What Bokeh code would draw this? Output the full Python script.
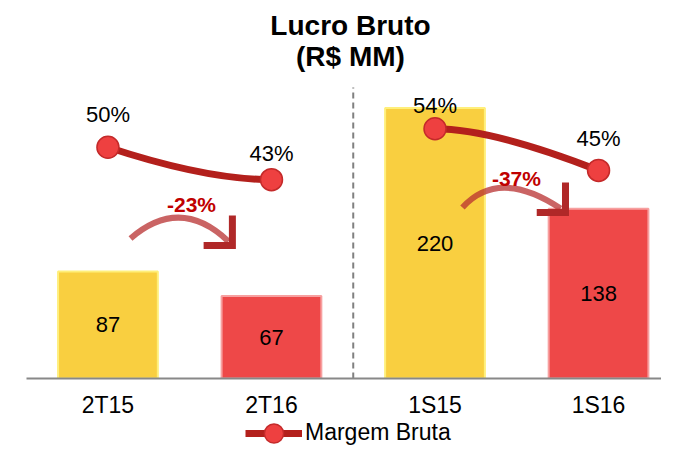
from bokeh.plotting import figure
from bokeh.layouts import column
from bokeh.models import Range1d, ColumnDataSource, Legend, LegendItem, FixedTicker
from bokeh.core.properties import value
from bokeh.embed import file_html
from bokeh.resources import INLINE

# ---- data ----
categories = ["2T15", "2T16", "1S15", "1S16"]
lucro = [87, 67, 220, 138]
margem = [50, 43, 54, 45]
margem_labels = ["50%", "43%", "54%", "45%"]
variacao_labels = ["-23%", "-37%"]
serie_nome = "Margem Bruta"

# ---- styles ----
bar_fill = ["#F9CF40", "#EE4848", "#F9CF40", "#EE4848"]
bar_edge = ["#FFEF7A", "#F7A0A0", "#FFEF7A", "#F7A0A0"]
pct_offsets = [-33, -26, -23, -32]
FONT = "Liberation Sans"
LINE_RED = "#B3201C"
DOT_FILL = "#EE4040"
DOT_EDGE = "#C42A2A"

xs = list(range(len(categories)))

p = figure(frame_width=635, frame_height=378, output_backend="svg", toolbar_location=None,
           x_range=Range1d(-0.498, 3.385), y_range=Range1d(0, 307.3),
           y_axis_location=None,
           min_border_left=26, min_border_right=0, min_border_top=0, min_border_bottom=0)
p.extra_y_ranges = {"pct": Range1d(0, 81.73)}
p.grid.visible = False
p.outline_line_color = None
p.background_fill_color = "white"

# bars
src = ColumnDataSource(dict(x=xs, top=lucro, fill=bar_fill, edge=bar_edge,
                            mid=[v / 2 for v in lucro], txt=[str(v) for v in lucro]))
p.vbar(x="x", top="top", width=0.61, fill_color="fill", line_color="edge", line_width=2, source=src)
p.text(x="x", y="mid", text="txt", source=src, text_align="center", text_baseline="middle",
       text_font=value(FONT), text_font_size="22px", text_color="black")

# divider
p.segment(x0=[1.5], y0=[0], x1=[1.5], y1=[236.6], line_color="#808080", line_width=2, line_dash="6 4")

# margin lines (smoothed between pairs)
p.quadratic(x0=[xs[0]], y0=[margem[0]], x1=[xs[1]], y1=[margem[1]],
            cx=[xs[0] + 0.6], cy=[margem[1]], y_range_name="pct",
            line_color=LINE_RED, line_width=7, line_cap="round")
p.quadratic(x0=[xs[2]], y0=[margem[2]], x1=[xs[3]], y1=[margem[3]],
            cx=[xs[2] + 0.35], cy=[margem[2]], y_range_name="pct",
            line_color=LINE_RED, line_width=7, line_cap="round")
msrc = ColumnDataSource(dict(x=xs, y=margem, lab=margem_labels, off=pct_offsets))
p.scatter(x="x", y="y", source=msrc, y_range_name="pct", size=22,
          fill_color=DOT_FILL, line_color=DOT_EDGE, line_width=1.5)
p.text(x="x", y="y", text="lab", source=msrc, y_range_name="pct", y_offset="off",
       text_align="center", text_baseline="middle",
       text_font=value(FONT), text_font_size="22px", text_color="black")

# variation arrows
p.quadratic(x0=[0.138, 2.168], y0=[113.8, 139.0], cx=[0.443, 2.389], cy=[148.8, 171.5],
            x1=[0.737, 2.768], y1=[111.4, 138.2], line_color="#B83030", line_alpha=0.75, line_width=6)
p.multi_line(xs=[[0.761, 0.761, 0.585], [2.798, 2.798, 2.622]],
             ys=[[132.5, 108.1, 108.1], [159.3, 135.0, 135.0]],
             line_color="#B02828", line_width=7, line_join="miter")
p.text(x=[0.511, 2.498], y=[141.5, 162.6], text=variacao_labels, text_align="center",
       text_baseline="middle", text_font=value(FONT), text_font_size="21px",
       text_font_style="bold", text_color="#C00000")

# title
p.text(x=[1.483, 1.483], y=[287.0, 261.8], text=["Lucro Bruto", "(R$ MM)"], text_align="center",
       text_baseline="middle", text_font=value(FONT), text_font_size="28px",
       text_font_style="bold", text_color="black")

# x axis
p.xaxis.ticker = FixedTicker(ticks=xs)
p.xaxis.major_label_overrides = {i: c for i, c in zip(xs, categories)}
p.xaxis.major_tick_line_color = None
p.xaxis.minor_tick_line_color = None
p.xaxis.major_tick_out = 0
p.xaxis.major_tick_in = 0
p.xaxis.minor_tick_out = 0
p.xaxis.axis_line_color = "#888888"
p.xaxis.axis_line_width = 2
p.xaxis.major_label_text_font = FONT
p.xaxis.major_label_text_font_size = "23px"
p.xaxis.major_label_text_color = "black"
p.xaxis.major_label_standoff = 13

# legend strip under the chart; legend-only renderers sit outside the visible range
lf = figure(frame_width=635, frame_height=26, output_backend="svg", toolbar_location=None,
            x_range=Range1d(0, 1), y_range=Range1d(0, 1),
            x_axis_location=None, y_axis_location=None,
            min_border_left=26, min_border_right=0, min_border_top=0, min_border_bottom=0)
lf.grid.visible = False
lf.outline_line_color = None
leg_line = lf.line(x=[-10, -9], y=[0, 0], line_color=LINE_RED, line_width=7)
leg_dot = lf.ellipse(x=[-10], y=[0], width=20, height=20, width_units="screen", height_units="screen",
                     fill_color=DOT_FILL, line_color=DOT_EDGE, line_width=1.5)
legend = Legend(items=[LegendItem(label=serie_nome, renderers=[leg_line, leg_dot])],
                location=(219, 0), orientation="horizontal", glyph_width=57, glyph_height=24,
                label_text_font=FONT, label_text_font_size="23px", label_text_color="black",
                label_standoff=3, margin=0, padding=0,
                border_line_alpha=0, background_fill_alpha=0)
lf.add_layout(legend, "center")

layout = column(p, lf, spacing=0)
open("out.html", "w").write(file_html(layout, INLINE))
